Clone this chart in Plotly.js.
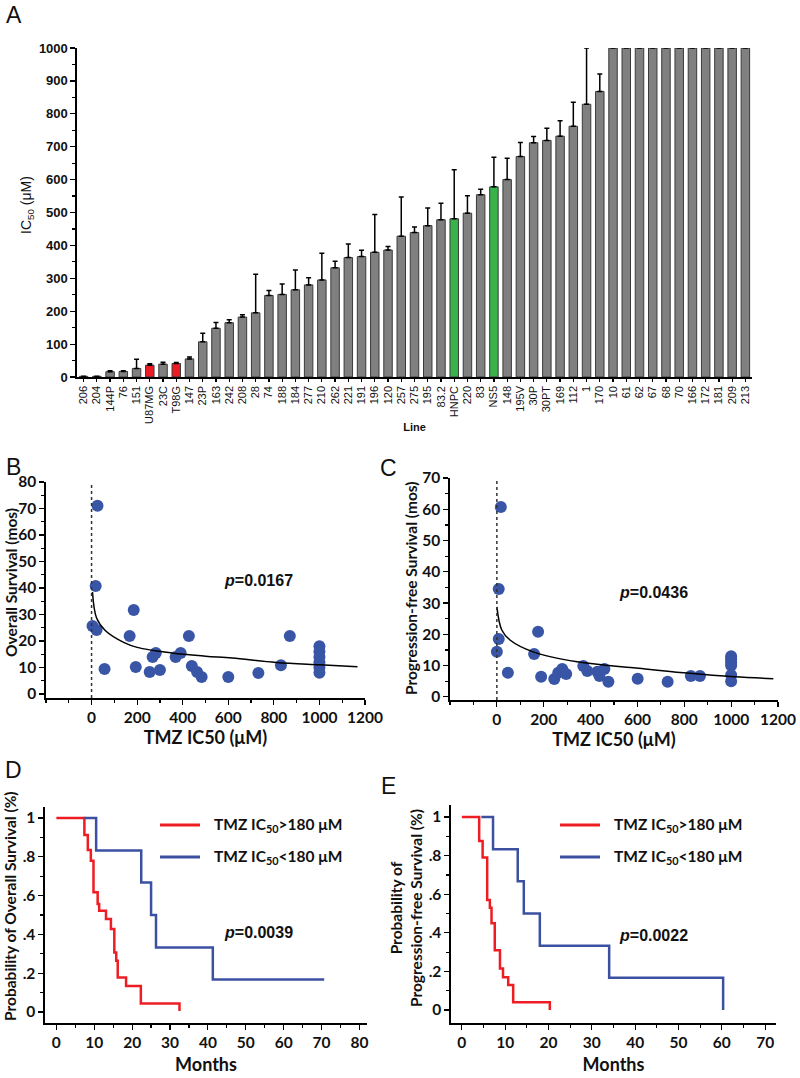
<!DOCTYPE html>
<html>
<head>
<meta charset="utf-8">
<script src="https://cdn.plot.ly/plotly-3.0.1.min.js"></script>
<style>body{margin:0;background:#fff}#fig{width:800px;height:1078px}</style>
</head>
<body>
<div id="fig"></div>
<script>
// ---- panel A: IC50 per line ----
var lines = ['206','204','144P','76','151','U87MG','23C','T98G','147','23P','163','242','208','28','74','188','184','277','210','262',
  '221','191','196','120','257','275','195','83.2','HNPC','220','83','NS5','148','195V','30P','30PT','169','112','1','170',
  '10','61','62','67','68','70','166','172','181','209','213'];
var ic50 = [2,2,16,17,26,36,39,41,55,107,148,165,182,195,248,251,265,280,295,332,
  363,366,379,386,428,439,460,478,481,498,554,578,600,670,712,719,732,762,829,868,
  1000,1000,1000,1000,1000,1000,1000,1000,1000,1000,1000];
var ic50Sd = [0,0,3,2,28,4,6,3,6,26,18,9,7,117,15,32,60,22,81,20,
  41,19,115,11,119,17,54,50,149,53,17,90,65,43,19,37,47,73,171,53,
  0,0,0,0,0,0,0,0,0,0,0];
var redLines = ['U87MG','T98G'];
var greenLines = ['HNPC','NS5'];

// ---- panel B: overall survival vs IC50 ----
var osIc50 = [26,18,4,22,185,167,427,870,57,194,255,268,282,300,369,391,440,463,483,600,732,831,1000,1000,1000,1000,1000,1000];
var osMonths = [71,40.8,25.7,24.2,31.7,21.9,21.9,21.9,9.4,10.2,8.3,14,15.5,9.1,14,15.5,10.6,8.3,6.4,6.4,7.9,10.9,18,16,14,12,10,8];
var osFitX = [4,22,60,141,200,352,500,617,810,1000,1167];
var osFitY = [38.5,28.7,24,19.5,17.6,15.5,14.3,13.6,11.9,11.0,10.3];

// ---- panel C: progression-free survival vs IC50 ----
var pfsIc50 = [17,8,176,8,0,47,159,189,245,262,279,296,369,386,429,438,459,476,601,729,828,867,1000,1000,1000,1000,1000,1000];
var pfsMonths = [60.7,34.5,20.8,18.5,14.4,7.7,13.7,6.4,5.7,7.7,8.9,7.3,9.9,8.3,8,6.7,8.9,4.8,5.8,4.8,6.7,6.7,13,12,11,10,7,5];
var pfsFitX = [0,21,56,155,343,584,798,1013,1180];
var pfsFitY = [28.8,21.4,18.2,14.4,11.2,9.3,7.7,6.4,5.8];

// ---- panel D: Kaplan-Meier overall survival ----
var osHighT = [0,7.4,8.3,9.1,9.8,10.9,11.3,13.1,14.4,15.3,15.8,16.2,18.4,22.3,32.5];
var osHighS = [1,0.912,0.835,0.78,0.617,0.557,0.522,0.479,0.428,0.307,0.264,0.178,0.134,0.043,0.005];
var osLowT = [7.4,10.5,22.4,25,26.3,41.3,70.7];
var osLowS = [1,0.833,0.667,0.5,0.333,0.167,0.167];

// ---- panel E: Kaplan-Meier progression-free survival ----
var pfsHighT = [0,4.0,4.8,5.85,6.47,6.85,7.6,8.8,9.5,10.7,11.85,20.3];
var pfsHighS = [1,0.875,0.79,0.57,0.53,0.45,0.31,0.215,0.17,0.13,0.04,0.0];
var pfsLowT = [4.5,7.2,12.9,14.3,18,34,60.3];
var pfsLowS = [1,0.833,0.667,0.5,0.333,0.167,0];

var kmTickVals = [0,0.2,0.4,0.6,0.8,1];
var kmTickText = ['0','.2','.4','.6','.8','1'];

var W = 800, H = 1078;
function xd(a, b) { return [a / W, b / W]; }
function yd(bottom, top) { return [1 - bottom / H, 1 - top / H]; }
function px(x) { return x / W; }
function py(y) { return 1 - y / H; }

var RED = '#ee1d23', BLUE = '#3c50a2', DOT = '#3955a6';
var arial = 'Liberation Sans, Arial, sans-serif';
var cal = 'Lato, Open Sans, sans-serif';

var barColors = lines.map(function (l) {
  if (redLines.indexOf(l) >= 0) return '#ec1c24';
  if (greenLines.indexOf(l) >= 0) return '#37b34a';
  return '#808080';
});

var data = [
  { type: 'bar', x: lines, y: ic50, xaxis: 'x', yaxis: 'y',
    marker: { color: barColors, line: { color: '#3a3a3a', width: 1 } },
    error_y: { type: 'data', symmetric: false, array: ic50Sd, arrayminus: ic50Sd.map(function () { return 0; }),
      color: '#000', thickness: 1.5, width: 2.5 } },
  { type: 'scatter', mode: 'markers', x: osIc50, y: osMonths, xaxis: 'x2', yaxis: 'y2',
    marker: { color: DOT, size: 12 } },
  { type: 'scatter', mode: 'lines', x: osFitX, y: osFitY, xaxis: 'x2', yaxis: 'y2',
    line: { color: '#000', width: 1.5, shape: 'spline' } },
  { type: 'scatter', mode: 'markers', x: pfsIc50, y: pfsMonths, xaxis: 'x3', yaxis: 'y3',
    marker: { color: DOT, size: 12 } },
  { type: 'scatter', mode: 'lines', x: pfsFitX, y: pfsFitY, xaxis: 'x3', yaxis: 'y3',
    line: { color: '#000', width: 1.5, shape: 'spline' } },
  { type: 'scatter', mode: 'lines', x: osHighT, y: osHighS, xaxis: 'x4', yaxis: 'y4',
    line: { color: RED, width: 2.5, shape: 'hv' } },
  { type: 'scatter', mode: 'lines', x: osLowT, y: osLowS, xaxis: 'x4', yaxis: 'y4',
    line: { color: BLUE, width: 2.5, shape: 'hv' } },
  { type: 'scatter', mode: 'lines', x: pfsHighT, y: pfsHighS, xaxis: 'x5', yaxis: 'y5',
    line: { color: RED, width: 2.5, shape: 'hv' } },
  { type: 'scatter', mode: 'lines', x: pfsLowT, y: pfsLowS, xaxis: 'x5', yaxis: 'y5',
    line: { color: BLUE, width: 2.5, shape: 'hv' } }
];

function ax(extra) {
  var a = { showline: true, linecolor: '#000', linewidth: 1.6, ticks: 'outside', tickcolor: '#000',
    ticklen: 5, tickwidth: 1.2, showgrid: false, zeroline: false, fixedrange: true };
  for (var k in extra) a[k] = extra[k];
  return a;
}
var calTick = { family: cal, size: 15.5, weight: 'bold', color: '#111' };
var calTitle = { family: cal, size: 18, weight: 'bold', color: '#111' };
var minorT = function (d) { return { dtick: d, ticks: 'outside', ticklen: 3, tickcolor: '#000' }; };

var layout = {
  width: W, height: H, autosize: false, showlegend: false,
  margin: { l: 0, r: 0, t: 0, b: 0 },
  paper_bgcolor: '#fff', plot_bgcolor: 'rgba(0,0,0,0)',
  bargap: 0.36,
  xaxis: ax({ domain: xd(77, 752), anchor: 'y', type: 'category', range: [-0.5, 50.5], tickangle: -90, ticklen: 3,
    tickfont: { family: arial, size: 11, color: '#111' },
    title: { text: 'Line', standoff: 0, font: { family: arial, size: 11, weight: 'bold', color: '#111' } } }),
  yaxis: ax({ domain: yd(377, 48), anchor: 'x', range: [0, 1000], dtick: 100,
    tickfont: { family: arial, size: 13, weight: 'bold', color: '#111' }, minor: minorT(50) }),
  xaxis2: ax({ domain: xd(46, 365), anchor: 'y2', range: [-200, 1200], tickvals: [0,200,400,600,800,1000,1200],
    tickfont: calTick, minor: minorT(100),
    title: { text: 'TMZ IC50 (μM)', standoff: 4, font: calTitle } }),
  yaxis2: ax({ domain: yd(698, 482), anchor: 'x2', range: [-1.5, 80], dtick: 10, tickfont: calTick, minor: minorT(5) }),
  xaxis3: ax({ domain: xd(450, 778), anchor: 'y3', range: [-200, 1200], tickvals: [0,200,400,600,800,1000,1200],
    tickfont: calTick, minor: minorT(100),
    title: { text: 'TMZ IC50 (μM)', standoff: 4, font: calTitle } }),
  yaxis3: ax({ domain: yd(700, 478), anchor: 'x3', range: [-1, 70], dtick: 10, tickfont: calTick, minor: minorT(5) }),
  xaxis4: ax({ domain: xd(45, 367), anchor: 'y4', range: [-3, 82], dtick: 10, tickfont: calTick, minor: minorT(5),
    title: { text: 'Months', standoff: 8, font: calTitle } }),
  yaxis4: ax({ domain: yd(1023, 807), anchor: 'x4', range: [-0.057, 1.057], tickvals: kmTickVals, ticktext: kmTickText,
    tickfont: calTick, minor: minorT(0.1) }),
  xaxis5: ax({ domain: xd(451, 776), anchor: 'y5', range: [-2.5, 72.5], dtick: 10, tickfont: calTick, minor: minorT(5),
    title: { text: 'Months', standoff: 8, font: calTitle } }),
  yaxis5: ax({ domain: yd(1023, 805), anchor: 'x5', range: [-0.067, 1.062], tickvals: kmTickVals, ticktext: kmTickText,
    tickfont: calTick, minor: minorT(0.1) }),
  shapes: [
    { type: 'line', xref: 'x2', yref: 'y2 domain', x0: 0, x1: 0, y0: 0, y1: 1, line: { color: '#333', width: 1.5, dash: 'dot' } },
    { type: 'line', xref: 'x3', yref: 'y3 domain', x0: 0, x1: 0, y0: 0, y1: 1, line: { color: '#333', width: 1.5, dash: 'dot' } },
    { type: 'line', xref: 'paper', yref: 'paper', x0: px(160), x1: px(200), y0: py(825), y1: py(825), line: { color: RED, width: 3 } },
    { type: 'line', xref: 'paper', yref: 'paper', x0: px(160), x1: px(200), y0: py(857), y1: py(857), line: { color: BLUE, width: 3 } },
    { type: 'line', xref: 'paper', yref: 'paper', x0: px(560), x1: px(600), y0: py(825), y1: py(825), line: { color: RED, width: 3 } },
    { type: 'line', xref: 'paper', yref: 'paper', x0: px(560), x1: px(600), y0: py(857), y1: py(857), line: { color: BLUE, width: 3 } }
  ],
  annotations: []
};

function note(text, x, y, font, opts) {
  var a = { xref: 'paper', yref: 'paper', x: px(x), y: py(y), text: text, showarrow: false, font: font,
    xanchor: 'center', yanchor: 'middle' };
  for (var k in opts) a[k] = opts[k];
  layout.annotations.push(a);
}
var letterFont = { family: arial, size: 23, color: '#111' };
note('A', 14, 15, letterFont);
note('B', 13, 467, letterFont);
note('C', 388, 468, letterFont);
note('D', 13, 770, letterFont);
note('E', 388, 786, letterFont);

var pFont = { family: arial, size: 16, weight: 'bold', color: '#111' };
note('<i>p</i>=0.0167', 258, 580, pFont);
note('<i>p</i>=0.0436', 653, 592, pFont);
note('<i>p</i>=0.0039', 258, 932, pFont);
note('<i>p</i>=0.0022', 653, 935, pFont);

var legFont = { family: cal, size: 15.5, weight: 'bold', color: '#111' };
note('TMZ IC<sub>50</sub>&gt;180 μM', 212, 825, legFont, { xanchor: 'left' });
note('TMZ IC<sub>50</sub>&lt;180 μM', 212, 857, legFont, { xanchor: 'left' });
note('TMZ IC<sub>50</sub>&gt;180 μM', 612, 825, legFont, { xanchor: 'left' });
note('TMZ IC<sub>50</sub>&lt;180 μM', 612, 857, legFont, { xanchor: 'left' });

// y axis titles
var yTitleFont = { family: cal, size: 15.5, weight: 'bold', color: '#111' };
note('IC<sub>50</sub> (μM)', 27, 205, { family: arial, size: 14, color: '#111' }, { textangle: -90 });
note('Overall Survival (mos)', 11, 583, yTitleFont, { textangle: -90 });
note('Progression-free Survival (mos)', 411, 588, yTitleFont, { textangle: -90 });
note('Probability of Overall Survival (%)', 10, 906, yTitleFont, { textangle: -90 });
note('Probability of<br>Progression-free Survival (%)', 406, 908, yTitleFont, { textangle: -90 });

Plotly.newPlot('fig', data, layout, { displayModeBar: false, staticPlot: true });
</script>
</body>
</html>
